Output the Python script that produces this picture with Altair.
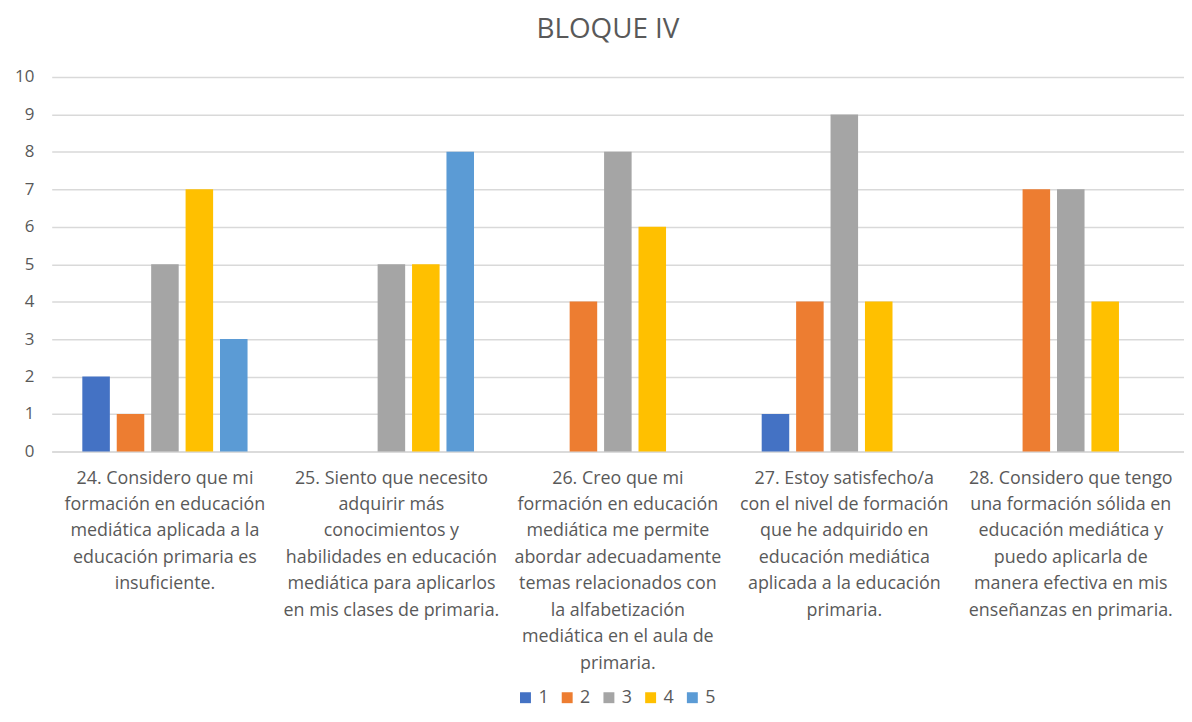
import altair as alt
import pandas as pd

categories = [
    "24. Considero que mi\nformación en educación\nmediática aplicada a la\neducación primaria es\ninsuficiente.",
    "25. Siento que necesito\nadquirir más\nconocimientos y\nhabilidades en educación\nmediática para aplicarlos\nen mis clases de primaria.",
    "26. Creo que mi\nformación en educación\nmediática me permite\nabordar adecuadamente\ntemas relacionados con\nla alfabetización\nmediática en el aula de\nprimaria.",
    "27. Estoy satisfecho/a\ncon el nivel de formación\nque he adquirido en\neducación mediática\naplicada a la educación\nprimaria.",
    "28. Considero que tengo\nuna formación sólida en\neducación mediática y\npuedo aplicarla de\nmanera efectiva en mis\nenseñanzas en primaria.",
]
series = ["1", "2", "3", "4", "5"]
s1 = [2, 0, 0, 1, 0]
s2 = [1, 0, 4, 4, 7]
s3 = [5, 5, 8, 9, 7]
s4 = [7, 5, 6, 4, 4]
s5 = [3, 8, 0, 0, 0]
colors = ["#4472C4", "#ED7D31", "#A5A5A5", "#FFC000", "#5B9BD5"]

rows = []
for name, vals in zip(series, [s1, s2, s3, s4, s5]):
    for c, v in zip(categories, vals):
        rows.append({"cat": c, "serie": name, "valor": v})
df = pd.DataFrame(rows)

FONT = "Open Sans"
TXT = "#595959"

chart = alt.Chart(df).mark_bar().encode(
    x=alt.X("cat:N", sort=categories, title=None,
            scale=alt.Scale(paddingInner=0.24, paddingOuter=0.12),
            axis=alt.Axis(labelExpr="split(datum.value, '\\n')", labelAngle=0,
                          labelLimit=0, labelOverlap=False, labelFontSize=18,
                          labelLineHeight=26.6, labelPadding=18, labelColor=TXT,
                          labelFont=FONT, ticks=False, domain=True,
                          domainColor="#D9D9D9", domainWidth=1.5, grid=False)),
    xOffset=alt.XOffset("serie:N", sort=series,
                        scale=alt.Scale(paddingInner=0.2, paddingOuter=0.1)),
    y=alt.Y("valor:Q", title=None,
            scale=alt.Scale(domain=[0, 10], nice=False),
            axis=alt.Axis(values=list(range(0, 11)), labelFontSize=17,
                          labelColor=TXT, labelFont=FONT, labelPadding=18,
                          ticks=False, domain=False, gridColor="#D9D9D9",
                          gridWidth=1.5)),
    color=alt.Color("serie:N", sort=series,
                    scale=alt.Scale(domain=series, range=colors),
                    legend=alt.Legend(title=None, orient="none", direction="horizontal",
                                      legendX=468, legendY=616, symbolType="square",
                                      symbolSize=121, symbolStrokeWidth=0,
                                      labelFontSize=18, labelColor=TXT, labelFont=FONT,
                                      columnPadding=9, labelOffset=4)),
).properties(
    width=1140, height=377,
    title=alt.TitleParams("BLOQUE IV", fontSize=28, font=FONT, color=TXT,
                          fontWeight="normal", anchor="middle", dx=-10, offset=24),
    autosize=alt.AutoSizeParams(type="none"),
    padding={"left": 44, "top": 67, "right": 0, "bottom": 262},
).configure_view(stroke=None)

chart.save("out.html", embed_options={"renderer": "svg", "actions": False})
